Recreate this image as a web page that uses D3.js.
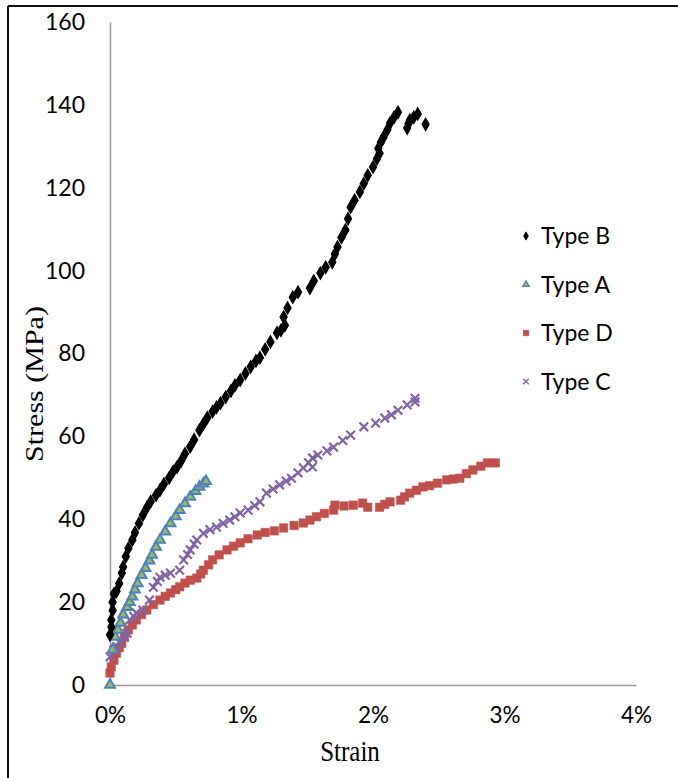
<!DOCTYPE html>
<html>
<head>
<meta charset="utf-8">
<script src="https://cdn.jsdelivr.net/npm/d3@7"></script>
<style>
  body { margin: 0; background: #fff; }
  svg { display: block; }
</style>
</head>
<body>
<svg id="chart" width="678" height="778"></svg>
<script>
// strain (%) , stress (MPa)
const typeB = [
  [0.00, 12.1], [0.01, 14.0], [0.01, 15.7], [0.02, 18.0], [0.02, 20.0], [0.03, 22.0], [0.05, 22.6],
  [0.07, 24.5], [0.09, 27.0], [0.10, 28.5], [0.12, 31.0], [0.14, 33.0], [0.17, 35.0], [0.19, 36.8],
  [0.22, 39.0], [0.25, 41.0], [0.28, 42.8], [0.31, 44.3], [0.35, 45.8], [0.38, 47.0], [0.41, 48.5],
  [0.45, 50.0], [0.48, 51.5], [0.51, 52.6], [0.54, 54.0], [0.57, 55.8], [0.61, 57.5], [0.64, 59.2],
  [0.68, 61.5], [0.71, 63.0], [0.74, 64.5], [0.78, 66.0], [0.81, 67.0], [0.84, 68.0], [0.88, 69.5],
  [0.92, 71.0], [0.95, 72.3], [0.99, 73.6], [1.03, 75.2], [1.07, 76.8], [1.11, 78.2], [1.14, 79.0],
  [1.18, 81.0], [1.22, 82.8], [1.27, 85.0], [1.30, 85.6], [1.33, 86.8], [1.32, 88.8], [1.35, 91.0],
  [1.39, 93.6], [1.43, 94.8], [1.52, 95.8], [1.55, 97.5], [1.60, 99.4], [1.64, 100.8], [1.69, 102.0],
  [1.71, 104.0], [1.73, 105.7], [1.76, 108.0], [1.79, 109.8], [1.81, 112.5], [1.83, 115.3], [1.86, 117.0],
  [1.90, 119.0], [1.93, 121.0], [1.96, 123.0], [2.00, 125.0], [2.03, 127.0], [2.05, 128.3], [2.04, 129.5],
  [2.06, 131.0], [2.08, 132.2], [2.11, 134.0], [2.13, 135.6], [2.16, 137.0], [2.19, 138.2],
  [2.26, 134.4], [2.27, 135.5], [2.28, 136.3], [2.31, 137.0], [2.34, 137.8], [2.40, 135.3]
];
const typeA = [
  [0.00, 0.0], [0.02, 8.5], [0.04, 11.6], [0.06, 13.3], [0.08, 15.0], [0.10, 17.0], [0.13, 18.8],
  [0.15, 20.0], [0.17, 21.3], [0.19, 23.0], [0.21, 24.5], [0.24, 26.5], [0.27, 28.2], [0.30, 30.0],
  [0.32, 31.4], [0.35, 33.3], [0.38, 35.0], [0.42, 37.0], [0.46, 39.0], [0.50, 40.7], [0.53, 42.2],
  [0.57, 43.8], [0.61, 45.4], [0.65, 46.8], [0.68, 47.8], [0.71, 48.6], [0.73, 49.2]
];
const typeD = [
  [0.00, 2.9], [0.01, 4.4], [0.03, 6.0], [0.05, 7.7], [0.07, 9.0], [0.09, 10.1], [0.11, 11.8],
  [0.14, 13.3], [0.17, 14.5], [0.20, 15.7], [0.24, 17.0], [0.28, 18.1], [0.33, 19.4], [0.38, 20.5],
  [0.42, 21.4], [0.46, 22.2], [0.50, 23.0], [0.53, 23.7], [0.57, 24.6], [0.61, 25.3],
  [0.66, 25.8], [0.69, 26.8], [0.71, 27.7], [0.75, 29.0], [0.78, 30.2], [0.83, 31.4], [0.89, 32.6],
  [0.94, 33.5], [0.99, 34.3], [1.05, 35.3], [1.12, 36.2], [1.18, 36.8], [1.25, 37.2], [1.32, 37.9],
  [1.40, 38.5], [1.47, 39.1], [1.52, 39.8], [1.57, 40.6], [1.63, 41.4], [1.70, 42.2], [1.71, 43.4],
  [1.78, 43.2], [1.85, 43.4], [1.92, 43.9], [1.96, 42.9], [2.05, 42.9], [2.09, 43.6], [2.13, 44.2],
  [2.21, 44.6], [2.24, 45.4], [2.28, 46.3], [2.33, 47.0], [2.38, 47.8], [2.43, 48.1], [2.49, 48.7],
  [2.56, 49.5], [2.61, 49.7], [2.66, 49.9], [2.71, 51.0], [2.76, 51.9], [2.82, 52.8], [2.87, 53.6],
  [2.93, 53.6]
];
const typeC = [
  [0.00, 6.8], [0.03, 8.4], [0.05, 9.3], [0.08, 10.1], [0.11, 11.5], [0.13, 12.5], [0.15, 15.7],
  [0.18, 16.6], [0.20, 17.4], [0.25, 18.1], [0.30, 20.5], [0.33, 23.6], [0.36, 25.0], [0.38, 26.0],
  [0.42, 26.5], [0.46, 27.0], [0.53, 27.7], [0.56, 30.2], [0.59, 31.5], [0.61, 32.6], [0.64, 34.0],
  [0.66, 35.0], [0.71, 36.6], [0.76, 37.5], [0.81, 38.1], [0.86, 39.0], [0.91, 39.8], [0.95, 40.6],
  [0.99, 41.5], [1.05, 42.2], [1.10, 43.3], [1.14, 44.2], [1.19, 46.3], [1.24, 47.3], [1.29, 48.3],
  [1.34, 49.2], [1.38, 49.9], [1.43, 51.2], [1.47, 52.4], [1.51, 53.6], [1.54, 54.8], [1.58, 55.5],
  [1.54, 52.6], [1.65, 56.5], [1.70, 57.4], [1.77, 59.0], [1.83, 60.3], [1.93, 62.3], [2.02, 63.2],
  [2.09, 64.4], [2.14, 65.2], [2.19, 66.3], [2.26, 67.6], [2.32, 69.2], [2.32, 68.3]
];

const yTicks = [0, 20, 40, 60, 80, 100, 120, 140, 160];
const xTicks = [0, 1, 2, 3, 4];
const seriesNames = ["Type B", "Type A", "Type D", "Type C"];

const svg = d3.select("#chart");

// frame (only left and top edges show in the picture)
svg.append("line").attr("x1", 8).attr("y1", 6).attr("x2", 8).attr("y2", 778)
  .attr("stroke", "#111").attr("stroke-width", 2);
svg.append("line").attr("x1", 8).attr("y1", 6).attr("x2", 678).attr("y2", 6)
  .attr("stroke", "#111").attr("stroke-width", 2);

const x = d3.scaleLinear().domain([0, 4]).range([110, 636]);
const y = d3.scaleLinear().domain([0, 160]).range([685, 22]);

const tickFont = "Lato, 'Open Sans', sans-serif";
const serif = "'Liberation Serif', 'Times New Roman', serif";

// axes
const yAxis = svg.append("g").attr("transform", `translate(${x(0)},0)`)
  .call(d3.axisLeft(y).tickValues(yTicks).tickSize(0).tickPadding(25));
yAxis.select(".domain").attr("stroke", "#969696").attr("stroke-width", 1.5);
yAxis.selectAll("text").attr("font-family", tickFont).attr("font-size", 23).attr("fill", "#000");

const xAxis = svg.append("g").attr("transform", `translate(0,${y(0)})`)
  .call(d3.axisBottom(x).tickValues(xTicks).tickSize(0).tickPadding(22).tickFormat(d => d + "%"));
xAxis.select(".domain").attr("stroke", "#969696").attr("stroke-width", 1.5);
xAxis.selectAll("text").attr("font-family", tickFont).attr("font-size", 22.5).attr("fill", "#000");

// axis titles (the picture is a little stretched vertically)
svg.append("text").attr("transform", "translate(350,761) scale(1,1.15)").attr("text-anchor", "middle")
  .attr("font-family", serif).attr("font-size", 25)
  .text("Strain");
svg.append("text").attr("transform", "translate(43,384) rotate(-90) scale(1,0.82)").attr("text-anchor", "middle")
  .attr("font-family", serif).attr("font-size", 30)
  .text("Stress (MPa)");

// marker styles
const styles = {
  "Type B": { data: typeB, sym: d3.symbolDiamond, size: 44, fill: "#000", stroke: "#000", sw: 1.2 },
  "Type A": { data: typeA, sym: d3.symbolTriangle, size: 42, fill: "#9bbb59", stroke: "#4f81bd", sw: 2 },
  "Type D": { data: typeD, sym: d3.symbolSquare, size: 72, fill: "#c0504d", stroke: "#c0504d", sw: 0.5 },
  "Type C": { data: typeC, sym: d3.symbolX, size: 50, fill: "none", stroke: "#8064a2", sw: 2.2 }
};

// draw order: D, C, A, B
["Type D", "Type C", "Type A", "Type B"].forEach(name => {
  const s = styles[name];
  svg.append("g").selectAll("path")
    .data(s.data)
    .enter().append("path")
    .attr("transform", d => `translate(${x(d[0])},${y(d[1])})`)
    .attr("d", d3.symbol().type(s.sym).size(s.size))
    .attr("fill", s.fill)
    .attr("stroke", s.stroke)
    .attr("stroke-width", s.sw);
});

// legend
const legend = svg.append("g").attr("transform", "translate(526,236)");
seriesNames.forEach((name, i) => {
  const s = styles[name];
  const g = legend.append("g").attr("transform", `translate(0,${i * 48.5})`);
  g.append("path")
    .attr("d", d3.symbol().type(s.sym).size(s.size * 0.45))
    .attr("fill", s.fill).attr("stroke", s.stroke).attr("stroke-width", s.sw * 0.6);
  g.append("text").attr("x", 15).attr("y", 8)
    .attr("font-family", tickFont).attr("font-size", 23)
    .text(name);
});
</script>
</body>
</html>
